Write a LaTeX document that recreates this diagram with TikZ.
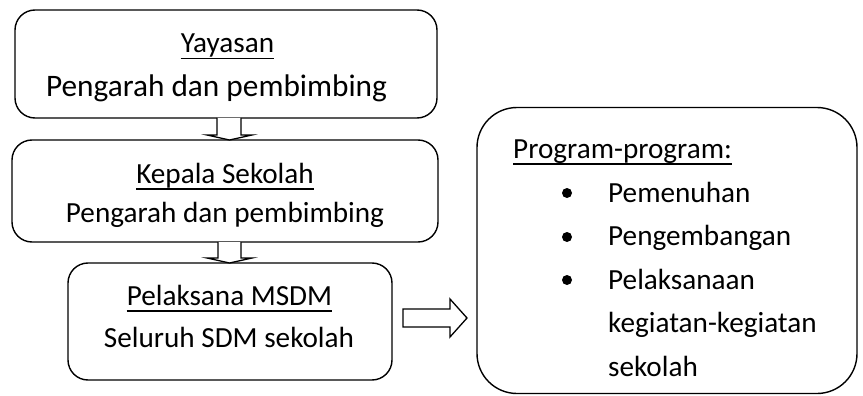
\documentclass[tikz,border=0pt]{standalone}
\usepackage{fontspec}
\setmainfont{Carlito}
\begin{document}
\begin{tikzpicture}[x=1pt,y=-1pt,
  box/.style={draw=black,line width=1.4pt,rounded corners=20pt,inner sep=0pt},
  bigbox/.style={draw=black,line width=1.4pt,rounded corners=40pt,inner sep=0pt},
  txt/.style={inner sep=0pt,anchor=base,font=\fontsize{29.2}{35}\selectfont},
  txtl/.style={inner sep=0pt,anchor=base west,font=\fontsize{29.2}{35}\selectfont},
  ul/.style={line width=1.4pt},
  bul/.style={circle,fill=black,inner sep=0pt,minimum size=10pt},
  blockarrow/.style={draw=black,line width=1.3pt,fill=white,line join=miter}]
\useasboundingbox (0,0) rectangle (863,396);
% boxes
\node[box,minimum width=422pt,minimum height=108pt] (b1) at (226,64) {};
\node[box,minimum width=426pt,minimum height=102pt] (b2) at (225,191) {};
\node[box,minimum width=324pt,minimum height=117pt] (b3) at (230,321.5) {};
\node[bigbox,minimum width=380pt,minimum height=286pt] (b4) at (667,250.5) {};
% box 1 text
\node[txt] (t1a) at (227.5,53) {Yayasan};
\draw[ul] ([yshift=-5.5pt]t1a.base west) -- ([yshift=-5.5pt]t1a.base east);
\node[txt,font=\fontsize{31.3}{36}\selectfont] (t1b) at (216.5,97) {Pengarah dan pembimbing};
% box 2 text
\node[txt] (t2a) at (225,183) {Kepala Sekolah};
\draw[ul] ([yshift=-6pt]t2a.base west) -- ([yshift=-6pt]t2a.base east);
\begin{scope}
\clip (0,190) rectangle (863,227);
\node[txt] (t2b) at (225,222) {Pengarah dan pembimbing};
\end{scope}
% box 3 text
\node[txt] (t3a) at (229.5,305) {Pelaksana MSDM};
\draw[ul] ([yshift=-6pt]t3a.base west) -- ([yshift=-6pt]t3a.base east);
\node[txt] (t3b) at (229,347) {Seluruh SDM sekolah};
% box 4 text
\node[txtl] (t4a) at (513,158) {Program-program:};
\draw[ul] ([yshift=-6pt]t4a.base west) -- ([yshift=-6pt]t4a.base east);
\node[bul] (p1) at (567,193) {};
\node[bul] (p2) at (567,237) {};
\node[bul] (p3) at (567,280) {};
\node[txtl] (l1) at (608,202) {Pemenuhan};
\node[txtl] (l2) at (608,245.5) {Pengembangan};
\node[txtl] (l3) at (608,289) {Pelaksanaan};
\node[txtl] (l4) at (608,332.5) {kegiatan-kegiatan};
\node[txtl] (l5) at (608,376) {sekolah};
% block arrows
\draw[blockarrow] (217,118) -- (217,135) -- (207,135) -- (229.5,140) -- (252,135) -- (241,135) -- (241,118);
\draw[blockarrow] (218,242) -- (218,258) -- (207,258) -- (229.5,263) -- (252,258) -- (241,258) -- (241,242);
\draw[blockarrow] (403,309) -- (450,309) -- (450,299) -- (467,318) -- (450,337) -- (450,327) -- (403,327) -- cycle;
\end{tikzpicture}
\end{document}
